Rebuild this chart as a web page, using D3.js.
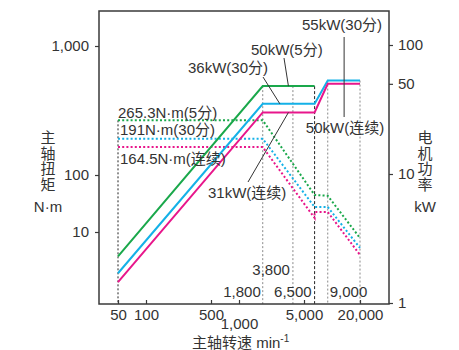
<!DOCTYPE html>
<html>
<head>
<meta charset="utf-8">
<script src="https://cdn.jsdelivr.net/npm/d3@7"></script>
<style>
  body { margin: 0; background: #fff; }
  svg text { font-family: "Liberation Sans", "Noto Sans CJK SC", sans-serif; fill: #333; }
</style>
</head>
<body>
<div id="chart"></div>
<script>
/*
 * Data
 *****************************/
// spindle speed (min-1) break points
const speedLimits = [50, 1800, 3800, 6500, 9000, 20000];

// motor power (kW), solid lines, right axis
const speed5min = [50, 1800, 6500];
const power5min = [2.3, 48, 48];
const speed30min = [50, 1800, 6500, 9000, 20000];
const power30min = [1.7, 35, 35, 53, 53];
const speedCont = [50, 1800, 6500, 9000, 20000];
const powerCont = [1.45, 30, 30, 50, 50];

// spindle torque (N·m), dotted lines, left axis
const tSpeed5min = [50, 1800, 6500, 9000, 20000];
const torque5min = [265.3, 265.3, 70, 69, 32.5];
const tSpeed30min = [50, 1800, 6500, 9000, 20000];
const torque30min = [191, 191, 56.5, 56.5, 27.2];
const tSpeedCont = [50, 1800, 6500, 6500, 9000, 20000];
const torqueCont = [164.5, 164.5, 46.4, 51.7, 51.7, 24];

// ticks
const xTicks = [50, 100, 500, 1000, 5000, 20000];
const torqueTicks = [10, 100, 1000];
const powerTicks = [1, 10, 50, 100];

const GREEN = "#1aa84b", CYAN = "#14b1e7", MAGENTA = "#e8168b";

/*
 * Plot
 *****************************/
const width = 459, height = 350;
const frame = { left: 99, right: 389, top: 11, bottom: 304 };

const svg = d3.select("#chart").append("svg")
  .attr("width", width).attr("height", height);

const x = d3.scaleLog().domain([50, 20000]).range([118, 360]);
const yPower = d3.scaleLog().domain([1, 100]).range([303, 45]);
const yTorque = d3.scaleLog().domain([100, 1000]).range([175, 46]);
// the printed left axis squeezes its lowest decade
const yTorqueAxis = d3.scaleLog().domain([10, 100, 1000]).range([232, 175, 46]);

const fmt = d3.format(",");

// vertical guide lines
const guideTop = {50: yTorque(265.3), 1800: yPower(48), 3800: yPower(48), 6500: yPower(48), 9000: yPower(53), 20000: yPower(53)};
svg.append("g").selectAll("line")
  .data(speedLimits)
  .join("line")
  .attr("x1", d => x(d)).attr("x2", d => x(d))
  .attr("y1", d => guideTop[d]).attr("y2", frame.bottom)
  .attr("stroke", d => (d === 50 || d === 6500) ? "#222" : "#8a8a8a")
  .attr("stroke-width", 1)
  .attr("stroke-dasharray", d => d === 6500 ? "3,2" : "2,2");

// torque (dotted) lines
const torqueSeries = [
  { speeds: tSpeed5min, values: torque5min, color: GREEN },
  { speeds: tSpeed30min, values: torque30min, color: CYAN },
  { speeds: tSpeedCont, values: torqueCont, color: MAGENTA }
];
const line = d3.line();
svg.append("g").selectAll("path")
  .data(torqueSeries)
  .join("path")
  .attr("d", s => line(s.speeds.map((n, i) => [x(n), yTorque(s.values[i])])))
  .attr("fill", "none")
  .attr("stroke", s => s.color)
  .attr("stroke-width", 2)
  .attr("stroke-dasharray", "2,2.2");

// power (solid) lines
const powerSeries = [
  { speeds: speed5min, values: power5min, color: GREEN },
  { speeds: speed30min, values: power30min, color: CYAN },
  { speeds: speedCont, values: powerCont, color: MAGENTA }
];
svg.append("g").selectAll("path")
  .data(powerSeries)
  .join("path")
  .attr("d", s => line(s.speeds.map((n, i) => [x(n), yPower(s.values[i])])))
  .attr("fill", "none")
  .attr("stroke", s => s.color)
  .attr("stroke-width", 2);

// frame
svg.append("rect")
  .attr("x", frame.left).attr("y", frame.top)
  .attr("width", frame.right - frame.left).attr("height", frame.bottom - frame.top)
  .attr("fill", "none").attr("stroke", "#3a3a3a").attr("stroke-width", 1.5);

// axes
const styleAxis = g => {
  g.select(".domain").remove();
  g.selectAll(".tick line").attr("stroke", "#3a3a3a").attr("stroke-width", 1.2);
  g.selectAll(".tick text").style("font-size", "15px").attr("fill", "#333");
};

svg.append("g")
  .attr("transform", `translate(${frame.left},0)`)
  .call(d3.axisLeft(yTorqueAxis).tickValues(torqueTicks).tickFormat(fmt).tickSize(4).tickPadding(6))
  .call(styleAxis);

svg.append("g")
  .attr("transform", `translate(${frame.right},0)`)
  .call(d3.axisRight(yPower).tickValues(powerTicks).tickFormat(fmt).tickSize(4).tickPadding(5))
  .call(styleAxis);

svg.append("g")
  .attr("transform", `translate(0,${frame.bottom})`)
  .call(d3.axisBottom(x).tickValues(xTicks).tickFormat(fmt).tickSize(-4).tickPadding(6))
  .call(styleAxis)
  .selectAll(".tick text")
  .attr("y", d => d === 1000 ? 14 : 5);

// speed break labels
const breakLabels = [
  { v: 3800, text: "3,800", anchor: "end", dx: -3, y: 275 },
  { v: 1800, text: "1,800", anchor: "end", dx: -2, y: 297 },
  { v: 6500, text: "6,500", anchor: "end", dx: -3, y: 297 },
  { v: 9000, text: "9,000", anchor: "start", dx: 2, y: 297 }
];
svg.append("g").selectAll("text")
  .data(breakLabels)
  .join("text")
  .attr("x", d => x(d.v) + d.dx).attr("y", d => d.y)
  .attr("text-anchor", d => d.anchor)
  .style("font-size", "15px")
  .text(d => d.text);

// annotations
const notes = [
  { text: "265.3N·m(5分)", x: 118, y: 118, anchor: "start" },
  { text: "191N·m(30分)", x: 120, y: 135, anchor: "start" },
  { text: "164.5N·m(连续)", x: 120, y: 164, anchor: "start" },
  { text: "36kW(30分)", x: 188, y: 73, anchor: "start" },
  { text: "50kW(5分)", x: 251, y: 55, anchor: "start" },
  { text: "55kW(30分)", x: 342, y: 30, anchor: "middle" },
  { text: "50kW(连续)", x: 345, y: 133, anchor: "middle" },
  { text: "31kW(连续)", x: 208, y: 198, anchor: "start" }
];
svg.append("g").selectAll("text")
  .data(notes)
  .join("text")
  .attr("x", d => d.x).attr("y", d => d.y)
  .attr("text-anchor", d => d.anchor)
  .style("font-size", "15px")
  .text(d => d.text);

// leader lines: [x1, y1, speed, power] -> ends on the power curves
const leaders = [
  [284, 58, 3400, 48],
  [263, 77, 2750, 35],
  [248, 182, 3400, 30],
  [x(13500), 37, 13500, 50]
];
svg.append("g").selectAll("line")
  .data(leaders)
  .join("line")
  .attr("x1", d => d[0]).attr("y1", d => d[1])
  .attr("x2", d => x(d[2])).attr("y2", (d, i) => i === 3 ? 117 : yPower(d[3]))
  .attr("stroke", "#333").attr("stroke-width", 1);

// axis titles
const leftTitle = ["主", "轴", "扭", "矩"];
const rightTitle = ["电", "机", "功", "率"];
svg.append("g").selectAll("text")
  .data(leftTitle)
  .join("text")
  .attr("x", 48).attr("y", (d, i) => 143 + i * 15.5)
  .attr("text-anchor", "middle")
  .style("font-size", "15px")
  .text(d => d);
svg.append("text")
  .attr("x", 48).attr("y", 212)
  .attr("text-anchor", "middle")
  .style("font-size", "15px")
  .text("N·m");

svg.append("g").selectAll("text")
  .data(rightTitle)
  .join("text")
  .attr("x", 425).attr("y", (d, i) => 143 + i * 15.5)
  .attr("text-anchor", "middle")
  .style("font-size", "15px")
  .text(d => d);
svg.append("text")
  .attr("x", 425).attr("y", 212)
  .attr("text-anchor", "middle")
  .style("font-size", "15px")
  .text("kW");

const xTitle = svg.append("text")
  .attr("x", 192).attr("y", 348)
  .style("font-size", "15px");
xTitle.append("tspan").text("主轴转速  min");
xTitle.append("tspan").attr("dy", -6).style("font-size", "10px").text("-1");
</script>
</body>
</html>
